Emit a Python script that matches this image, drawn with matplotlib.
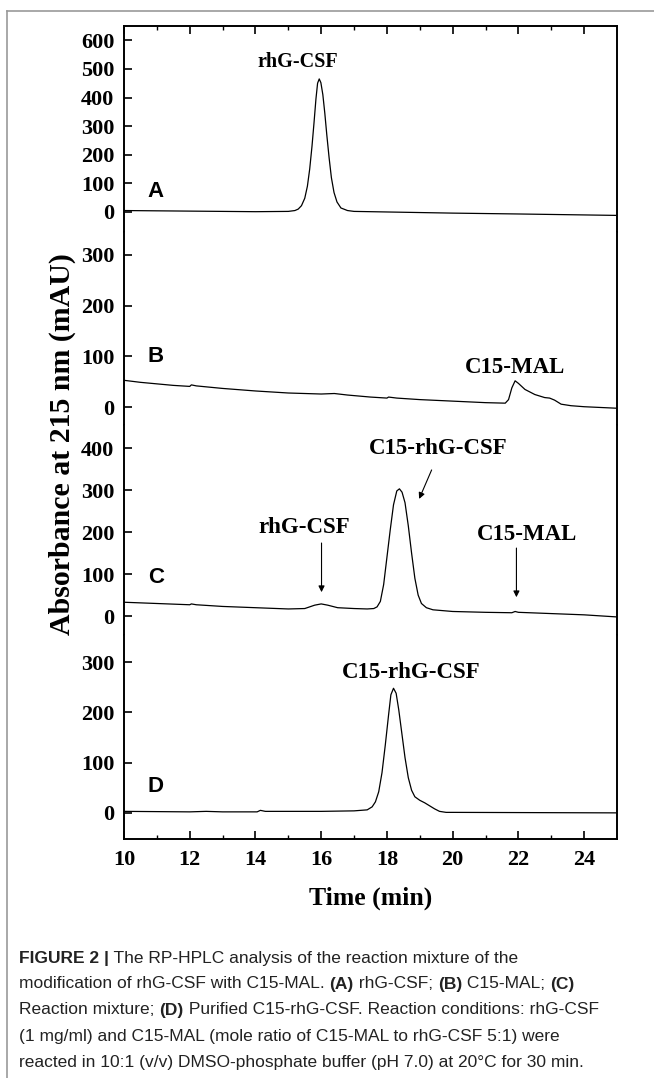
import matplotlib
matplotlib.use('Agg')
import matplotlib.pyplot as plt
from matplotlib.lines import Line2D

SERIF = 'Liberation Serif'
SANS = 'Liberation Sans'

# (A) rhG-CSF
a_time = [10.0, 11.0, 12.0, 13.0, 14.0, 15.0, 15.2, 15.3, 15.4, 15.5, 15.58, 15.65,
          15.72, 15.78, 15.84, 15.89, 15.94, 15.99, 16.05, 16.11, 16.17, 16.24, 16.31,
          16.39, 16.48, 16.6, 16.8, 17.0, 18.0, 20.0, 22.0, 25.0]
a_abs = [5, 4, 3, 2, 1, 2, 5, 10, 22, 48, 90, 150,
         230, 310, 395, 450, 465, 452, 410, 345, 270, 190, 120,
         68, 35, 14, 5, 2, 0, -4, -7, -12]

# (B) C15-MAL
b_time = [10.0, 10.5, 11.0, 11.5, 12.0, 12.05, 12.2, 13.0, 14.0, 15.0, 16.0, 16.4,
          16.8, 17.5, 18.0, 18.05, 18.3, 19.0, 20.0, 21.0, 21.6, 21.7, 21.8, 21.9,
          22.0, 22.2, 22.5, 22.8, 22.95, 23.1, 23.3, 23.6, 24.0, 25.0]
b_abs = [53, 49, 46, 43, 41, 44, 42, 37, 32, 28, 26, 27,
         24, 20, 18, 20, 18, 15, 12, 9, 8, 15, 38, 52,
         47, 35, 25, 19, 18, 14, 6, 3, 1, -2]

# (C) reaction mixture
c_time = [10.0, 11.0, 12.0, 12.05, 12.2, 13.0, 14.0, 15.0, 15.5, 15.8, 16.0, 16.2,
          16.5, 17.0, 17.4, 17.6, 17.7, 17.8, 17.9, 18.0, 18.1, 18.2, 18.3, 18.38,
          18.46, 18.55, 18.65, 18.75, 18.85, 18.95, 19.05, 19.2, 19.4, 20.0, 21.0,
          21.8, 21.9, 22.0, 23.0, 24.0, 25.0]
c_abs = [33, 30, 27, 29, 27, 23, 20, 17, 18, 26, 29, 26,
         20, 18, 17, 18, 22, 35, 75, 140, 205, 265, 298, 303,
         295, 270, 215, 150, 90, 50, 30, 20, 15, 11, 9,
         8, 11, 9, 6, 3, -2]

# (D) purified C15-rhG-CSF
d_time = [10.0, 12.0, 12.5, 13.0, 14.05, 14.15, 14.3, 16.0, 17.0, 17.4, 17.55, 17.65,
          17.75, 17.85, 17.95, 18.05, 18.12, 18.2, 18.28, 18.36, 18.45, 18.55, 18.65,
          18.75, 18.85, 19.0, 19.15, 19.3, 19.45, 19.6, 19.8, 20.0, 25.0]
d_abs = [3, 2, 3, 2, 2, 5, 3, 3, 4, 6, 12, 22,
         42, 80, 135, 195, 235, 248, 238, 205, 160, 110, 70,
         45, 32, 25, 20, 14, 8, 3, 1, 1, 0]

panel_letters = ['A', 'B', 'C', 'D']
panel_ylims = [(-70, 650), (-35, 345), (-45, 455), (-52, 354)]
panel_yticks = [[0, 100, 200, 300, 400, 500, 600], [0, 100, 200, 300],
                [0, 100, 200, 300, 400], [0, 100, 200, 300]]
letter_y = [70, 99, 93, 52]
x_ticks = [10, 12, 14, 16, 18, 20, 22, 24]

fig = plt.figure(figsize=(6.54, 10.78), dpi=100)
gs = fig.add_gridspec(4, 1, left=124/654, right=617/654, top=1-26/1078, bottom=1-839/1078,
                      height_ratios=[206, 193, 210, 204], hspace=0)

traces = [(a_time, a_abs), (b_time, b_abs), (c_time, c_abs), (d_time, d_abs)]
axes = []
for i, (t, y) in enumerate(traces):
    ax = fig.add_subplot(gs[i])
    ax.plot(t, y, color='black', lw=0.9)
    ax.set_xlim(10, 25)
    ax.set_ylim(*panel_ylims[i])
    ax.set_yticks(panel_yticks[i])
    ax.set_yticklabels([str(v) for v in panel_yticks[i]], fontfamily=SERIF,
                       fontweight='bold', fontsize=16)
    ax.tick_params(axis='y', direction='in', length=6, width=1.2, pad=7, right=False)
    for side in ['left', 'right', 'top', 'bottom']:
        ax.spines[side].set_linewidth(1.4)
    if i > 0:
        ax.spines['top'].set_visible(False)
    if i < 3:
        ax.spines['bottom'].set_visible(False)
    ax.set_xticks(x_ticks)
    ax.set_xticks(range(11, 25, 2), minor=True)
    ax.tick_params(axis='x', which='major', direction='in', length=6, width=1.2,
                   top=(i == 0), bottom=(i == 3), labelbottom=(i == 3), pad=8)
    ax.tick_params(axis='x', which='minor', direction='in', length=3, width=1.0,
                   top=(i == 0), bottom=(i == 3))
    ax.text(10.72, letter_y[i], panel_letters[i], fontfamily=SANS, fontweight='bold',
            fontsize=16, ha='left', va='center')
    axes.append(ax)

ax_a, ax_b, ax_c, ax_d = axes
ax_d.set_xticklabels([str(v) for v in x_ticks], fontfamily=SERIF, fontweight='bold',
                     fontsize=16)
ax_d.set_xlabel('Time (min)', fontfamily=SERIF, fontweight='bold', fontsize=18.5,
                labelpad=12)

ann = dict(fontfamily=SERIF, fontweight='bold', fontsize=16.5, ha='center', va='center')
arrow = dict(arrowstyle='-|>', color='black', lw=0.8, mutation_scale=9,
             shrinkA=0, shrinkB=0)
ax_a.text(15.3, 525, 'rhG-CSF', **dict(ann, fontsize=14.5))
ax_b.text(21.9, 79, 'C15-MAL', **ann)
ax_c.text(15.48, 212, 'rhG-CSF', **ann)
ax_c.annotate('', xy=(16.01, 57), xytext=(16.01, 174), arrowprops=arrow)
ax_c.text(19.55, 400, 'C15-rhG-CSF', **ann)
ax_c.annotate('', xy=(18.98, 279), xytext=(19.36, 348), arrowprops=arrow)
ax_c.text(22.26, 195, 'C15-MAL', **ann)
ax_c.annotate('', xy=(21.94, 45), xytext=(21.94, 162), arrowprops=arrow)
ax_d.text(18.73, 280, 'C15-rhG-CSF', **ann)

fig.text(62/654, 1-444/1078, 'Absorbance at 215 nm (mAU)', rotation=90,
         fontfamily=SERIF, fontweight='bold', fontsize=21.5, ha='center', va='center')

# outer frame of the figure panel
fig.add_artist(Line2D([7/654, 1.0], [1-10.5/1078, 1-10.5/1078], color='#999999', lw=1.2))
fig.add_artist(Line2D([7/654, 7/654], [0, 1-10.5/1078], color='#999999', lw=1.2))

# caption, drawn piece by piece so bold parts can be mixed in
caption = [
    [('FIGURE 2 |', True), (' The RP-HPLC analysis of the reaction mixture of the', False)],
    [('modification of rhG-CSF with C15-MAL. ', False), ('(A)', True), (' rhG-CSF; ', False),
     ('(B)', True), (' C15-MAL; ', False), ('(C)', True)],
    [('Reaction mixture; ', False), ('(D)', True),
     (' Purified C15-rhG-CSF. Reaction conditions: rhG-CSF', False)],
    [('(1 mg/ml) and C15-MAL (mole ratio of C15-MAL to rhG-CSF 5:1) were', False)],
    [('reacted in 10:1 (v/v) DMSO-phosphate buffer (pH 7.0) at 20°C for 30 min.', False)],
]
renderer = fig.canvas.get_renderer()
line_y0 = 958
line_step = 26
for k, line in enumerate(caption):
    x_px = 19
    y = 1 - (line_y0 + k * line_step) / 1078
    for txt, bold in line:
        t = fig.text(x_px / 654, y, txt, fontfamily=SANS, fontsize=12.5,
                     fontweight='bold' if bold else 'normal', color='#222222',
                     ha='left', va='center')
        bb = t.get_window_extent(renderer=renderer)
        x_px += bb.width

fig.savefig('out.png', dpi=100)
